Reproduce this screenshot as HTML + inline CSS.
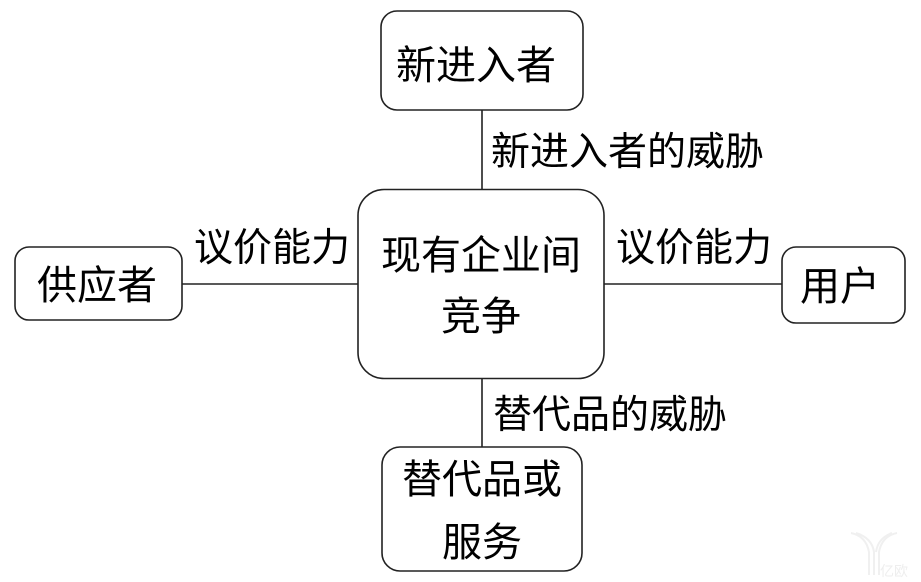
<!DOCTYPE html>
<html><head><meta charset="utf-8"><style>
html,body{margin:0;padding:0;background:#fff;}
svg{display:block;}
text{font-family:"Liberation Sans","Noto Sans CJK SC","Microsoft YaHei",sans-serif;fill:#000;}
</style></head><body>
<svg width="921" height="582" viewBox="0 0 921 582" xmlns="http://www.w3.org/2000/svg">
<g stroke="#222" stroke-width="1.6" fill="none">
  <line x1="482" y1="110" x2="482" y2="190"/>
  <line x1="482" y1="378" x2="482" y2="447"/>
  <line x1="182" y1="284" x2="358" y2="284"/>
  <line x1="604" y1="284" x2="782" y2="284"/>
  <rect x="381" y="11" width="202" height="99" rx="16" ry="16" fill="#fff"/>
  <rect x="358" y="189.5" width="246" height="189" rx="26" ry="26" fill="#fff"/>
  <rect x="15" y="247" width="167" height="73" rx="14" ry="14" fill="#fff"/>
  <rect x="782" y="247" width="123" height="76" rx="14" ry="14" fill="#fff"/>
  <rect x="382" y="447" width="200" height="124" rx="18" ry="18" fill="#fff"/>
</g>
<g font-size="40">
  <text x="476" y="79" text-anchor="middle">新进入者</text>
  <text x="97" y="299" text-anchor="middle">供应者</text>
  <text x="840" y="300" text-anchor="middle">用户</text>
  <text x="481" y="269" text-anchor="middle">现有企业间</text>
  <text x="481" y="330" text-anchor="middle">竞争</text>
  <text x="482" y="493" text-anchor="middle">替代品或</text>
  <text x="482" y="556" text-anchor="middle">服务</text>
</g>
<g font-size="39">
  <text x="491" y="165">新进入者的威胁</text>
  <text x="272" y="261" text-anchor="middle">议价能力</text>
  <text x="694" y="261" text-anchor="middle">议价能力</text>
  <text x="493" y="428">替代品的威胁</text>
</g>
<g stroke="#f0f0f0" stroke-width="2" fill="none">
  <path d="M851 533 Q866 536 869 552 L869 575"/>
  <path d="M856 533 Q872 538 874 552 L874 575"/>
  <path d="M897 533 Q882 536 879 552 L879 575"/>
  <path d="M892 533 Q878 538 876 552"/>
</g>
<text x="880" y="576" font-size="14" style="fill:#eeeeee">亿欧</text>
</svg>
</body></html>
